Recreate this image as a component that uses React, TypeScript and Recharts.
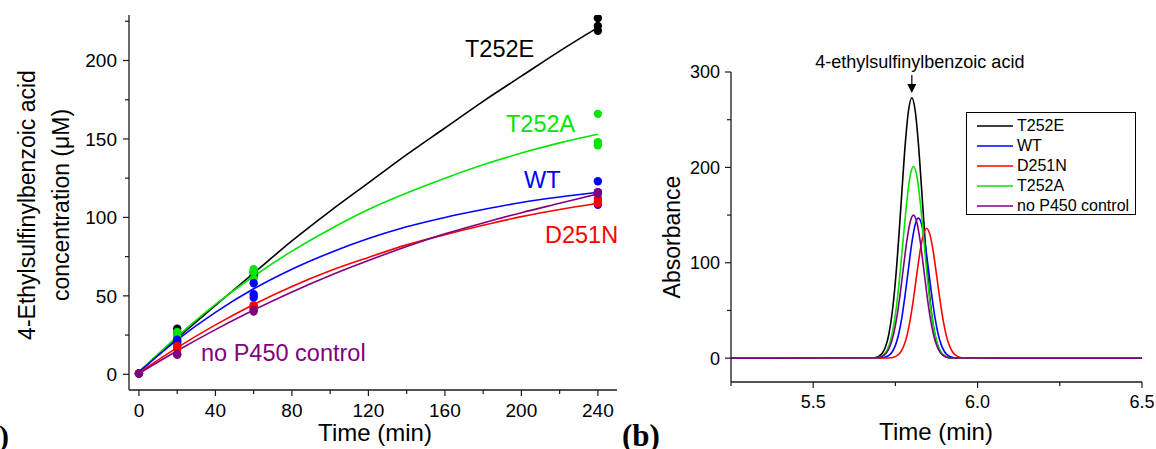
import React from 'react';
import { ComposedChart, LineChart, Line, Scatter, XAxis, YAxis, ReferenceDot, Legend } from 'recharts';

const AXIS = '#1a1a1a';
const FONT = '"Liberation Sans", Arial, Helvetica, sans-serif';

const BLACK = '#000000';
const GREEN = '#00e600';
const BLUE = '#0000ff';
const RED = '#ff0000';
const PURPLE = '#800080';

// ---------- Panel (a): product formation over time ----------
const fitTimes = [0, 20, 40, 60, 80, 100, 120, 140, 160, 180, 200, 220, 240];
const fitT252E = [1.5, 23, 44, 64.5, 85, 104, 122, 140, 157, 174, 190, 206, 221];
const fitT252A = [1.5, 24, 44.5, 62.5, 78.5, 92.5, 105, 115.5, 125, 133.5, 141, 147.5, 153];
const fitWT = [1.5, 22, 39.5, 54.5, 67, 77.5, 86.5, 94, 100, 105, 109.5, 113, 116];
const fitD251N = [1, 17, 31.5, 44.5, 56, 66, 74.5, 82.5, 89, 95, 100.5, 105, 109];
const fitNoP450 = [0.5, 15, 28.5, 41, 52.5, 63, 72.5, 81.5, 89.5, 96.5, 103, 109, 115];

const ptT252E_t = [0, 20, 20, 20, 60, 60, 240, 240, 240];
const ptT252E_v = [0.5, 29, 27, 25, 65, 63, 227, 222, 219];
const ptT252A_t = [0, 20, 20, 20, 60, 60, 60, 240, 240, 240];
const ptT252A_v = [0.5, 27, 25, 23, 67, 65, 61, 166, 148, 146];
const ptWT_t = [0, 20, 20, 20, 60, 60, 60, 240, 240, 240];
const ptWT_v = [0.5, 22, 21, 20, 58, 51, 49, 123, 116, 108];
const ptD251N_t = [0, 20, 20, 20, 60, 60, 60, 240, 240, 240];
const ptD251N_v = [0.5, 18, 17, 16, 44, 43, 42, 112, 110, 109];
const ptNoP450_t = [0, 20, 20, 60, 60, 240, 240];
const ptNoP450_v = [0.5, 12.5, 13, 41, 40, 116, 115];

const aXTicks = [0, 20, 40, 60, 80, 100, 120, 140, 160, 180, 200, 220, 240];
const aXMajor = [0, 40, 80, 120, 160, 200, 240];
const aYTicks = [0, 25, 50, 75, 100, 125, 150, 175, 200, 225];
const aYMajor = [0, 50, 100, 150, 200];

// ---------- Panel (b): HPLC chromatograms ----------
const tT252E = [5.25, 5.68, 5.69, 5.70, 5.71, 5.72, 5.73, 5.74, 5.75, 5.76, 5.77, 5.78, 5.79, 5.80, 5.81, 5.82, 5.83, 5.84, 5.85, 5.86, 5.87, 5.88, 5.89, 5.90, 5.91, 5.92, 6.5];
const aT252E = [0, 0.2, 0.7, 2.1, 5.2, 12.0, 25.0, 47.1, 80.5, 125.0, 175.9, 224.6, 259.9, 273, 259.9, 224.6, 175.9, 125.0, 80.5, 47.1, 25.0, 12.0, 5.2, 2.1, 0.7, 0.2, 0];
const tT252A = [5.25, 5.685, 5.695, 5.705, 5.715, 5.725, 5.735, 5.745, 5.755, 5.765, 5.775, 5.785, 5.795, 5.805, 5.815, 5.825, 5.835, 5.845, 5.855, 5.865, 5.875, 5.885, 5.895, 5.905, 5.915, 5.925, 6.5];
const aT252A = [0, 0.2, 0.5, 1.5, 3.9, 8.8, 18.4, 34.7, 59.3, 92.0, 129.5, 165.3, 191.4, 201, 191.4, 165.3, 129.5, 92.0, 59.3, 34.7, 18.4, 8.8, 3.9, 1.5, 0.5, 0.2, 0];
const tNoP450 = [5.25, 5.685, 5.695, 5.705, 5.715, 5.725, 5.735, 5.745, 5.755, 5.765, 5.775, 5.785, 5.795, 5.805, 5.815, 5.825, 5.835, 5.845, 5.855, 5.865, 5.875, 5.885, 5.895, 5.905, 5.915, 5.925, 6.5];
const aNoP450 = [0, 0.1, 0.4, 1.1, 2.9, 6.6, 13.7, 25.9, 44.3, 68.7, 96.7, 123.4, 142.8, 150, 142.8, 123.4, 96.7, 68.7, 44.3, 25.9, 13.7, 6.6, 2.9, 1.1, 0.4, 0.1, 0];
const tWT = [5.25, 5.70, 5.71, 5.72, 5.73, 5.74, 5.75, 5.76, 5.77, 5.78, 5.79, 5.80, 5.81, 5.82, 5.83, 5.84, 5.85, 5.86, 5.87, 5.88, 5.89, 5.90, 5.91, 5.92, 5.93, 5.94, 6.5];
const aWT = [0, 0.1, 0.4, 1.1, 2.8, 6.5, 13.4, 25.3, 43.4, 67.3, 94.7, 120.9, 139.9, 147, 139.9, 120.9, 94.7, 67.3, 43.4, 25.3, 13.4, 6.5, 2.8, 1.1, 0.4, 0.1, 0];
const tD251N = [5.25, 5.725, 5.735, 5.745, 5.755, 5.765, 5.775, 5.785, 5.795, 5.805, 5.815, 5.825, 5.835, 5.845, 5.855, 5.865, 5.875, 5.885, 5.895, 5.905, 5.915, 5.925, 5.935, 5.945, 5.955, 5.965, 6.5];
const aD251N = [0, 0.1, 0.4, 1.0, 2.6, 6.0, 12.4, 23.4, 40.1, 62.3, 87.6, 111.9, 129.5, 136, 129.5, 111.9, 87.6, 62.3, 40.1, 23.4, 12.4, 6.0, 2.6, 1.0, 0.4, 0.1, 0];

const bXTicks = [5.25, 5.5, 5.75, 6.0, 6.25, 6.5];
const bXMajor = [5.5, 6.0, 6.5];
const bYTicks = [0, 50, 100, 150, 200, 250, 300];
const bYMajor = [0, 100, 200, 300];

const peakTime = 5.8;
const peakArrowTip = 278;

const zip = (ts: number[], vs: number[]) => ts.map((t, i) => ({ t, v: vs[i] }));

const seriesA = [
  { name: 'T252E', color: BLACK, fit: fitT252E, pt: zip(ptT252E_t, ptT252E_v) },
  { name: 'T252A', color: GREEN, fit: fitT252A, pt: zip(ptT252A_t, ptT252A_v) },
  { name: 'WT', color: BLUE, fit: fitWT, pt: zip(ptWT_t, ptWT_v) },
  { name: 'D251N', color: RED, fit: fitD251N, pt: zip(ptD251N_t, ptD251N_v) },
  { name: 'no P450 control', color: PURPLE, fit: fitNoP450, pt: zip(ptNoP450_t, ptNoP450_v) },
];

const seriesB = [
  { name: 'T252E', color: BLACK, data: zip(tT252E, aT252E) },
  { name: 'WT', color: BLUE, data: zip(tWT, aWT) },
  { name: 'D251N', color: RED, data: zip(tD251N, aD251N) },
  { name: 'T252A', color: GREEN, data: zip(tT252A, aT252A) },
  { name: 'no P450 control', color: PURPLE, data: zip(tNoP450, aNoP450) },
];

const isMajor = (majors: number[], v: number) => majors.some((m) => Math.abs(m - v) < 1e-9);

const makeXTick = (majors: number[], fmt: (v: number) => string, fs: number, base: number) => (props: any) => {
  const { x, y, payload } = props;
  const v = payload.value;
  const major = isMajor(majors, v);
  return (
    <g>
      <line x1={x} y1={y} x2={x} y2={y + (major ? 6 : 4)} stroke={AXIS} strokeWidth={1.2} />
      {major && (
        <text x={x} y={y + base} textAnchor="middle" fontSize={fs} fill="#000" fontFamily={FONT}>
          {fmt(v)}
        </text>
      )}
    </g>
  );
};

const makeYTick = (majors: number[], fs: number, gap: number) => (props: any) => {
  const { x, y, payload } = props;
  const v = payload.value;
  const major = isMajor(majors, v);
  return (
    <g>
      <line x1={x} y1={y} x2={x - (major ? 6 : 4)} y2={y} stroke={AXIS} strokeWidth={1.2} />
      {major && (
        <text x={x - gap} y={y} dy="0.36em" textAnchor="end" fontSize={fs} fill="#000" fontFamily={FONT}>
          {String(v)}
        </text>
      )}
    </g>
  );
};

const ArrowShape = (props: any) => {
  const { cx, cy } = props;
  return (
    <g>
      <line x1={cx} y1={cy - 18} x2={cx} y2={cy - 7} stroke="#000" strokeWidth={1.2} />
      <polygon points={`${cx - 4.5},${cy - 9} ${cx + 4.5},${cy - 9} ${cx},${cy}`} fill="#000" />
      <text x={cx + 8} y={cy - 24.5} textAnchor="middle" fontSize={18} fontFamily={FONT} fill="#000">
        4-ethylsulfinylbenzoic acid
      </text>
    </g>
  );
};

const LegendBox = () => (
  <div
    style={{
      border: '1.3px solid #000',
      boxSizing: 'border-box',
      width: 170,
      height: 103,
      paddingTop: 3,
      background: '#fff',
      fontFamily: FONT,
    }}
  >
    {seriesB.map((s) => (
      <div key={s.name} style={{ display: 'flex', alignItems: 'center', height: 20 }}>
        <svg width={36} height={20} style={{ marginLeft: 10, display: 'block' }}>
          <line x1={0} y1={10} x2={36} y2={10} stroke={s.color} strokeWidth={1.6} />
        </svg>
        <span style={{ marginLeft: 4, fontSize: 16, lineHeight: '20px', color: '#000', whiteSpace: 'nowrap' }}>{s.name}</span>
      </div>
    ))}
  </div>
);

export default function App() {
  return (
    <div
      style={{
        position: 'absolute',
        left: 0,
        top: 0,
        width: 1156,
        height: 449,
        background: '#fff',
        fontFamily: FONT,
        overflow: 'hidden',
      }}
    >
      {/* Panel (a) */}
      <div style={{ position: 'absolute', left: 0, top: 0 }}>
        <ComposedChart width={640} height={449} margin={{ top: 15, right: 23, left: 0, bottom: 0 }}>
          <XAxis
            dataKey="t"
            type="number"
            domain={[-5.2, 250]}
            allowDataOverflow
            ticks={aXTicks}
            interval={0}
            tickLine={false}
            tickSize={0}
            tickMargin={0}
            height={59}
            axisLine={{ stroke: AXIS, strokeWidth: 1.3 }}
            tick={makeXTick(aXMajor, (v) => String(v), 19, 27)}
          />
          <YAxis
            dataKey="v"
            type="number"
            domain={[-10, 229]}
            allowDataOverflow
            ticks={aYTicks}
            interval={0}
            tickLine={false}
            tickSize={0}
            tickMargin={0}
            width={129}
            axisLine={{ stroke: AXIS, strokeWidth: 1.3 }}
            tick={makeYTick(aYMajor, 19, 12)}
          />
          {seriesA.map((s) => (
            <Line
              key={'fit-' + s.name}
              data={zip(fitTimes, s.fit)}
              dataKey="v"
              type="monotone"
              stroke={s.color}
              strokeWidth={1.6}
              dot={false}
              activeDot={false}
              isAnimationActive={false}
              name={s.name}
            />
          ))}
          {seriesA.map((s) => (
            <Scatter
              key={'pt-' + s.name}
              data={s.pt}
              dataKey="v"
              fill={s.color}
              isAnimationActive={false}
              shape={(p: any) => <circle cx={p.cx} cy={p.cy} r={4.2} fill={s.color} />}
            />
          ))}
        </ComposedChart>
      </div>

      {/* Panel (b) */}
      <div style={{ position: 'absolute', left: 640, top: 0 }}>
        <LineChart width={516} height={449} margin={{ top: 72, right: 14, left: 0, bottom: 0 }}>
          <XAxis
            dataKey="t"
            type="number"
            domain={[5.25, 6.5]}
            allowDataOverflow
            ticks={bXTicks}
            interval={0}
            tickLine={false}
            tickSize={0}
            tickMargin={0}
            height={67}
            axisLine={{ stroke: AXIS, strokeWidth: 1.3 }}
            tick={makeXTick(bXMajor, (v) => v.toFixed(1), 18, 26)}
          />
          <YAxis
            dataKey="v"
            type="number"
            domain={[-25, 300]}
            allowDataOverflow
            ticks={bYTicks}
            interval={0}
            tickLine={false}
            tickSize={0}
            tickMargin={0}
            width={91}
            axisLine={{ stroke: AXIS, strokeWidth: 1.3 }}
            tick={makeYTick(bYMajor, 18, 11)}
          />
          {seriesB.map((s) => (
            <Line
              key={s.name}
              data={s.data}
              dataKey="v"
              name={s.name}
              type="monotone"
              stroke={s.color}
              strokeWidth={1.6}
              dot={false}
              activeDot={false}
              isAnimationActive={false}
            />
          ))}
          <ReferenceDot x={peakTime} y={peakArrowTip} r={0} shape={ArrowShape} ifOverflow="visible" />
          <Legend
            layout="vertical"
            align="center"
            verticalAlign="middle"
            content={() => <LegendBox />}
            wrapperStyle={{ position: 'absolute', left: 326, top: 112, width: 170, height: 103 }}
          />
        </LineChart>
      </div>

      {/* Text overlay: labels and axis titles */}
      <svg
        width={1156}
        height={449}
        style={{ position: 'absolute', left: 0, top: 0, pointerEvents: 'none' }}
        fontFamily={FONT}
      >
        <text x={465} y={57} fontSize={23.5} fill={BLACK}>T252E</text>
        <text x={506} y={132} fontSize={23.5} fill={GREEN}>T252A</text>
        <text x={524} y={188} fontSize={23.5} fill={BLUE}>WT</text>
        <text x={545} y={243} fontSize={23.5} fill={RED}>D251N</text>
        <text x={201} y={361} fontSize={23.5} fill={PURPLE}>no P450 control</text>

        <text
          x={27}
          y={205}
          fontSize={23}
          textAnchor="middle"
          dominantBaseline="central"
          transform="rotate(-90 27 205)"
          fill="#000"
        >
          4-Ethylsulfinylbenzoic acid
        </text>
        <text
          x={61}
          y={205}
          fontSize={23}
          textAnchor="middle"
          dominantBaseline="central"
          transform="rotate(-90 61 205)"
          fill="#000"
        >
          concentration (μM)
        </text>
        <text x={375} y={441} fontSize={24} textAnchor="middle" fill="#000">Time (min)</text>

        <text
          x={672}
          y={237}
          fontSize={23}
          textAnchor="middle"
          dominantBaseline="central"
          transform="rotate(-90 672 237)"
          fill="#000"
        >
          Absorbance
        </text>
        <text x={936} y={440} fontSize={24} textAnchor="middle" fill="#000">Time (min)</text>

        <text x={9} y={446} fontSize={30} fontWeight="bold" textAnchor="end" fontFamily='"Liberation Serif", "Times New Roman", serif' fill="#000">(a)</text>
        <text x={622} y={446} fontSize={31} fontWeight="bold" fontFamily='"Liberation Serif", "Times New Roman", serif' fill="#000">(b)</text>
      </svg>
    </div>
  );
}
